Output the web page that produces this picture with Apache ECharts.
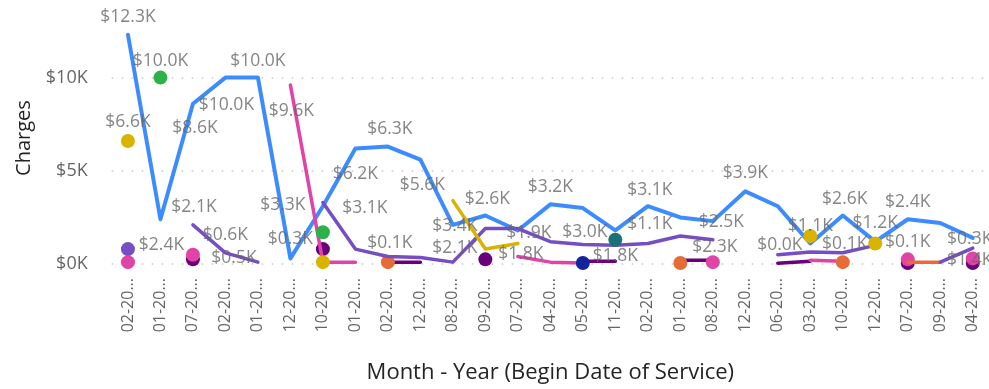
<!DOCTYPE html>
<html>
<head>
<meta charset="utf-8">
<script src="https://cdn.jsdelivr.net/npm/echarts@6/dist/echarts.min.js"></script>
<style>
  html, body { margin: 0; padding: 0; background: #fff; }
  #chart { width: 989px; height: 389px; }
</style>
</head>
<body>
<div id="chart"></div>
<script>
// Month-year categories (as shown, truncated)
const categories = ['02-20...', '01-20...', '07-20...', '02-20...', '01-20...', '12-20...', '10-20...',
  '01-20...', '02-20...', '12-20...', '08-20...', '09-20...', '07-20...', '04-20...', '05-20...',
  '11-20...', '02-20...', '01-20...', '08-20...', '12-20...', '06-20...', '03-20...', '10-20...',
  '12-20...', '07-20...', '09-20...', '04-20...'];

const yTicks = [0, 5000, 10000];

// Charges per series, one slot per category (null = no charges that month)
const chargesBlue = [12300, 2400, 8600, 10000, 10000, 300, 3100, 6200, 6300, 5600, 2100, 2600, 1800, 3200,
  3000, 1800, 3100, 2500, 2300, 3900, 3100, 1100, 2600, 1200, 2400, 2200, 1400];
const chargesDarkPurple = [null, null, 250, null, null, null, 800, null, 100, 100, null, 250, null, null,
  150, 150, null, 200, 200, null, 40, 150, null, null, 50, null, 50];
const chargesMagenta = [100, null, 500, null, null, 9600, 100, 100, null, null, null, null, 400, 100,
  50, null, null, null, 100, null, null, 200, 150, null, 250, null, 300];
const chargesOrange = [null, null, null, null, null, null, null, null, 100, null, null, null, null, null,
  null, null, null, 50, null, null, null, null, 100, null, 100, 100, null];
const chargesPurple = [800, null, 2100, 600, 100, null, 3300, 800, 400, 350, 100, 1900, 1900, 1200,
  1050, 1000, 1100, 1500, 1300, null, 500, 650, 600, 1000, null, 100, 850];
const chargesYellow = [6600, null, null, null, null, null, 100, null, null, null, 3400, 800, 1100, null,
  null, null, null, null, null, null, null, 1500, null, 1100, null, null, null];
const chargesGreen = [null, 10000, null, null, null, null, 1700, null, null, null, null, null, null, null,
  null, null, null, null, null, null, null, null, null, null, null, null, null];
const chargesTeal = [null, null, null, null, null, null, null, null, null, null, null, null, null, null,
  null, 1300, null, null, null, null, null, null, null, null, null, null, null];
const chargesNavy = [null, null, null, null, null, null, null, null, null, null, null, null, null, null,
  50, null, null, null, null, null, null, null, null, null, null, null, null];

// Series drawing order (bottom to top) with colours and line widths
const seriesDefs = [
  { name: 'Series 1', data: chargesBlue, color: '#3C8CFF', width: 4 },
  { name: 'Series 2', data: chargesDarkPurple, color: '#6B007B', width: 3.5 },
  { name: 'Series 3', data: chargesMagenta, color: '#E044A7', width: 3.5 },
  { name: 'Series 4', data: chargesOrange, color: '#E66C37', width: 3.5 },
  { name: 'Series 5', data: chargesPurple, color: '#744EC2', width: 3.5 },
  { name: 'Series 6', data: chargesYellow, color: '#D9B300', width: 3.5 },
  { name: 'Series 7', data: chargesGreen, color: '#2DB24A', width: 3.5 },
  { name: 'Series 8', data: chargesTeal, color: '#197278', width: 3.5 },
  { name: 'Series 9', data: chargesNavy, color: '#12239E', width: 3.5 }
];

// Which points carry a value label, and where the label sits relative to the point
const labelMarks = [
  [chargesBlue, 0, 0, -18], [chargesGreen, 1, 0, -17], [chargesBlue, 4, 0, -17],
  [chargesYellow, 0, 0, -19], [chargesBlue, 3, 1, 27], [chargesBlue, 2, 2, 24],
  [chargesMagenta, 5, 1, 26], [chargesPurple, 2, 1, -18], [chargesBlue, 1, 1, 26],
  [chargesPurple, 3, 0, -18], [chargesMagenta, 2, 41, 3], [chargesPurple, 6, -40, 3],
  [chargesBlue, 5, 0, -19], [chargesBlue, 7, 0, 26], [chargesBlue, 8, 2, -18],
  [chargesBlue, 6, 42, 2], [chargesBlue, 9, 2, 25], [chargesOrange, 8, 2, -19],
  [chargesYellow, 10, 2, 25], [chargesBlue, 10, 2, 23], [chargesBlue, 11, 2, -17],
  [chargesBlue, 13, 0, -17], [chargesBlue, 14, 2, 24], [chargesPurple, 12, 11, 4],
  [chargesBlue, 12, 3, 24], [chargesBlue, 15, 0, 26], [chargesPurple, 16, 2, -19],
  [chargesBlue, 16, 2, -16], [chargesBlue, 17, 41, 5], [chargesBlue, 18, 2, 26],
  [chargesBlue, 19, 0, -18], [chargesDarkPurple, 20, 2, -18], [chargesBlue, 21, 0, -17],
  [chargesBlue, 22, 2, -17], [chargesOrange, 22, 2, -18], [chargesBlue, 23, 0, -19],
  [chargesBlue, 24, 0, -17], [chargesOrange, 24, 0, -20], [chargesMagenta, 26, -3, -19],
  [chargesBlue, 26, -3, 22]
];

const fmtK = v => '$' + (v / 1000).toFixed(1) + 'K';
const labelFont = 'Open Sans, Noto Sans, sans-serif';

// A point with no neighbours gets a round marker, otherwise it is part of a line
function toLineData(values) {
  return values.map((v, i) => {
    if (v == null) return '-';
    const prev = i > 0 ? values[i - 1] : null;
    const next = i < values.length - 1 ? values[i + 1] : null;
    const alone = prev == null && next == null;
    return { value: v, symbol: alone ? 'circle' : 'none' };
  });
}

const lineSeries = seriesDefs.map((d, k) => ({
  name: d.name,
  type: 'line',
  data: toLineData(d.data),
  showSymbol: true,
  symbolSize: 14,
  connectNulls: false,
  lineStyle: { color: d.color, width: d.width, cap: 'round', join: 'round' },
  itemStyle: { color: d.color },
  z: 2 + k,
  animation: false,
  emphasis: { disabled: true }
}));

const labelSeries = {
  type: 'scatter',
  symbolSize: 1,
  itemStyle: { color: 'rgba(0,0,0,0)' },
  z: 40,
  animation: false,
  silent: true,
  data: labelMarks.map(([arr, idx, dx, dy]) => ({
    value: [idx, arr[idx]],
    label: { offset: [dx, dy] }
  })),
  label: {
    show: true,
    position: 'inside',
    formatter: p => fmtK(p.value[1]),
    color: '#666666',
    fontSize: 17.5,
    fontFamily: labelFont
  }
};

const chart = echarts.init(document.getElementById('chart'), null, { renderer: 'canvas' });
chart.setOption({
  backgroundColor: '#ffffff',
  animation: false,
  grid: { left: 111.7, right: -2.3, top: 21.7, bottom: 119, containLabel: false },
  xAxis: {
    type: 'category',
    data: categories,
    boundaryGap: true,
    axisLine: { show: false },
    axisTick: { show: false },
    axisLabel: {
      interval: 0,
      rotate: 90,
      margin: 14,
      color: '#666666',
      fontSize: 16,
      fontFamily: labelFont
    },
    name: 'Month - Year (Begin Date of Service)',
    nameLocation: 'middle',
    nameGap: 98,
    nameTextStyle: { color: '#252423', fontSize: 22, fontFamily: labelFont }
  },
  yAxis: {
    type: 'value',
    min: yTicks[0],
    max: 13000,
    interval: yTicks[1] - yTicks[0],
    axisLine: { show: false },
    axisTick: { show: false },
    axisLabel: {
      showMaxLabel: false,
      margin: 24,
      color: '#666666',
      fontSize: 18,
      fontFamily: labelFont,
      formatter: v => (yTicks.indexOf(v) >= 0 ? '$' + v / 1000 + 'K' : '')
    },
    splitLine: {
      show: true,
      showMaxLine: false,
      lineStyle: { color: '#C8C6C4', width: 1.5, type: [1.5, 8.5] }
    }
  },
  graphic: [{
    type: 'text',
    x: 24,
    y: 138,
    rotation: Math.PI / 2,
    style: {
      text: 'Charges',
      fill: '#252423',
      font: '20px ' + labelFont,
      align: 'center',
      verticalAlign: 'middle'
    }
  }],
  series: lineSeries.concat([labelSeries])
});
</script>
</body>
</html>
